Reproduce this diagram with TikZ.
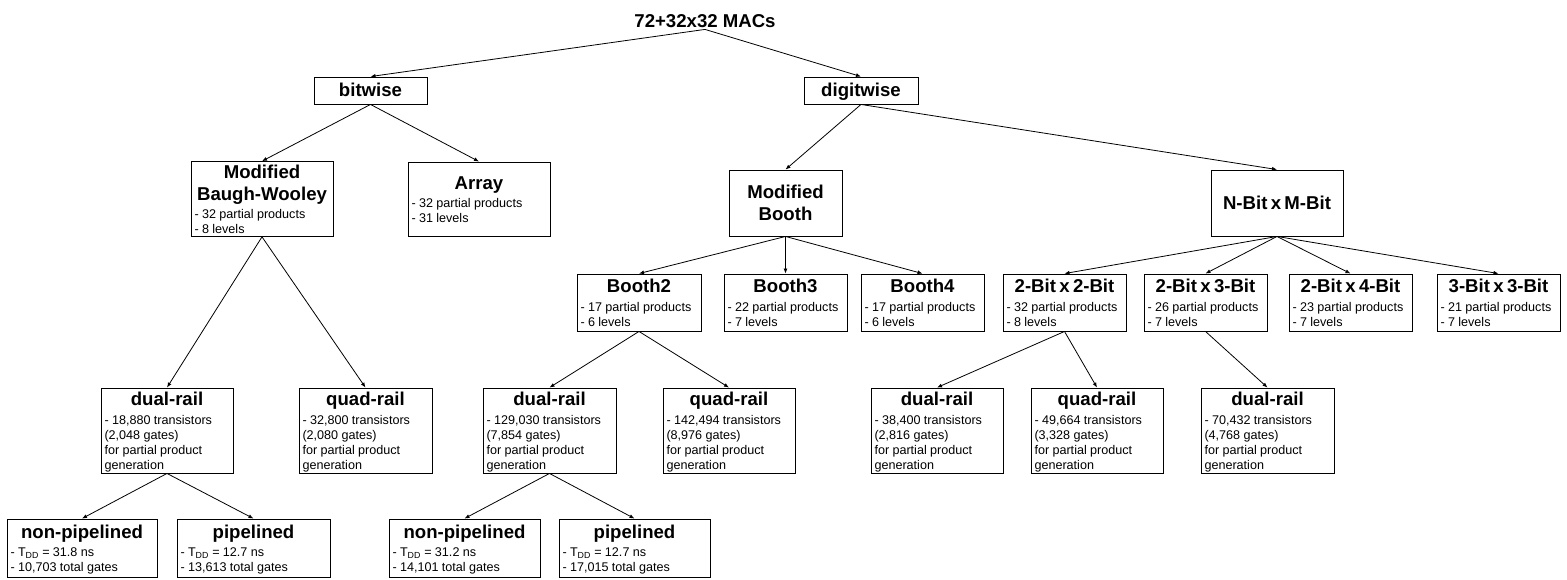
\documentclass[tikz,border=0pt]{standalone}
\usepackage{fontspec}
\setmainfont{Liberation Sans}
\usetikzlibrary{arrows.meta}
\newcommand{\ttlfont}{\bfseries\fontsize{18.6}{21.6}\selectfont}
\newcommand{\bdyfont}{\fontsize{12.6}{15}\selectfont}
\newcommand{\mytbox}[2]{{\centering\ttlfont\rule{0pt}{16.8pt}#1\par}\vspace{3.7pt}{\raggedright\bdyfont #2\rule[-2.7pt]{0pt}{2.7pt}\par}}
\newcommand{\mytitle}[1]{{\centering\ttlfont\rule{0pt}{16.8pt}#1\rule[-3.9pt]{0pt}{3.9pt}\par}}
\newcommand{\Tdd}{T\textsubscript{DD}}
\newcommand{\ppg}{for partial product\\generation}
\begin{document}
\begin{tikzpicture}[x=1pt,y=-1pt,
  box/.style={draw=black, line width=0.9pt, rectangle, inner xsep=3.5pt, inner ysep=0pt},
  lvlA/.style={box, minimum height=27pt},
  lvlB/.style={box, minimum height=74pt},
  lvlC/.style={box, minimum height=66pt},
  lvlD/.style={box, minimum height=57pt},
  lvlE/.style={box, minimum height=85pt},
  lvlF/.style={box, minimum height=58pt},
  edge/.style={draw=black, line width=0.8pt, -{Latex[length=5pt,width=4pt]}}]
\useasboundingbox (0,0) rectangle (1567,579);

% root
\node[inner sep=2pt, anchor=base, font=\ttlfont] (root) at (705,27) {72+32x32 MACs};

% level 1
\node[lvlA, text width=106pt] (bitwise) at (370.5,90.5) {\mytitle{bitwise}};
\node[lvlA, text width=107pt] (digitwise) at (861,90.5) {\mytitle{digitwise}};

% level 2
\node[lvlB, text width=135pt] (mbw) at (262,199) {\mytbox{Modified\\Baugh-Wooley}{- 32 partial products\\- 8 levels}};
\node[lvlB, text width=135pt] (array) at (479,199) {\mytbox{Array}{- 32 partial products\\- 31 levels}};
\node[lvlC, text width=106pt] (mbooth) at (785.5,203) {\mytitle{Modified\\Booth}};
\node[lvlC, text width=125pt] (nbit) at (1277,203) {\mytitle{N-Bit x M-Bit}};

% level 3
\node[lvlD, text width=117pt] (booth2) at (639,302.5) {\mytbox{Booth2}{- 17 partial products\\- 6 levels}};
\node[lvlD, text width=116pt] (booth3) at (785.5,302.5) {\mytbox{Booth3}{- 22 partial products\\- 7 levels}};
\node[lvlD, text width=116pt] (booth4) at (922.5,302.5) {\mytbox{Booth4}{- 17 partial products\\- 6 levels}};
\node[lvlD, text width=116pt] (b22) at (1064.5,302.5) {\mytbox{2-Bit x 2-Bit}{- 32 partial products\\- 8 levels}};
\node[lvlD, text width=116pt] (b23) at (1205.5,302.5) {\mytbox{2-Bit x 3-Bit}{- 26 partial products\\- 7 levels}};
\node[lvlD, text width=116pt] (b24) at (1350.5,302.5) {\mytbox{2-Bit x 4-Bit}{- 23 partial products\\- 7 levels}};
\node[lvlD, text width=116pt] (b33) at (1498.5,302.5) {\mytbox{3-Bit x 3-Bit}{- 21 partial products\\- 7 levels}};

% level 4
\node[lvlE, text width=125pt] (mdual) at (167,430.5) {\mytbox{dual-rail}{- 18,880 transistors\\(2,048 gates)\\\ppg}};
\node[lvlE, text width=126pt] (mquad) at (365.5,430.5) {\mytbox{quad-rail}{- 32,800 transistors\\(2,080 gates)\\\ppg}};
\node[lvlE, text width=126pt] (bdual) at (549.5,430.5) {\mytbox{dual-rail}{- 129,030 transistors\\(7,854 gates)\\\ppg}};
\node[lvlE, text width=125pt] (bquad) at (729,430.5) {\mytbox{quad-rail}{- 142,494 transistors\\(8,976 gates)\\\ppg}};
\node[lvlE, text width=125pt] (ddual) at (937,430.5) {\mytbox{dual-rail}{- 38,400 transistors\\(2,816 gates)\\\ppg}};
\node[lvlE, text width=125pt] (dquad) at (1097,430.5) {\mytbox{quad-rail}{- 49,664 transistors\\(3,328 gates)\\\ppg}};
\node[lvlE, text width=126pt] (tdual) at (1267.5,430.5) {\mytbox{dual-rail}{- 70,432 transistors\\(4,768 gates)\\\ppg}};

% level 5
\node[lvlF, text width=143pt] (mnp) at (82,548) {\mytbox{non-pipelined}{- \Tdd{} = 31.8 ns\\- 10,703 total gates}};
\node[lvlF, text width=146pt] (mp) at (253.5,548) {\mytbox{pipelined}{- \Tdd{} = 12.7 ns\\- 13,613 total gates}};
\node[lvlF, text width=144pt] (bnp) at (464.5,548) {\mytbox{non-pipelined}{- \Tdd{} = 31.2 ns\\- 14,101 total gates}};
\node[lvlF, text width=144pt] (bp) at (634.5,548) {\mytbox{pipelined}{- \Tdd{} = 12.7 ns\\- 17,015 total gates}};

% edges
\draw[edge] (root.south) -- (bitwise.north);
\draw[edge] (root.south) -- (digitwise.north);
\draw[edge] (bitwise.south) -- (mbw.north);
\draw[edge] (bitwise.south) -- (array.north);
\draw[edge] (digitwise.south) -- (mbooth.north);
\draw[edge] (digitwise.south) -- (nbit.north);
\draw[edge] (mbw.south) -- (mdual.north);
\draw[edge] (mbw.south) -- (mquad.north);
\draw[edge] (mbooth.south) -- (booth2.north);
\draw[edge] (mbooth.south) -- (booth3.north);
\draw[edge] (mbooth.south) -- (booth4.north);
\draw[edge] (nbit.south) -- (b22.north);
\draw[edge] (nbit.south) -- (b23.north);
\draw[edge] (nbit.south) -- (b24.north);
\draw[edge] (nbit.south) -- (b33.north);
\draw[edge] (booth2.south) -- (bdual.north);
\draw[edge] (booth2.south) -- (bquad.north);
\draw[edge] (b22.south) -- (ddual.north);
\draw[edge] (b22.south) -- (dquad.north);
\draw[edge] (b23.south) -- (tdual.north);
\draw[edge] (mdual.south) -- (mnp.north);
\draw[edge] (mdual.south) -- (mp.north);
\draw[edge] (bdual.south) -- (bnp.north);
\draw[edge] (bdual.south) -- (bp.north);
\end{tikzpicture}
\end{document}
